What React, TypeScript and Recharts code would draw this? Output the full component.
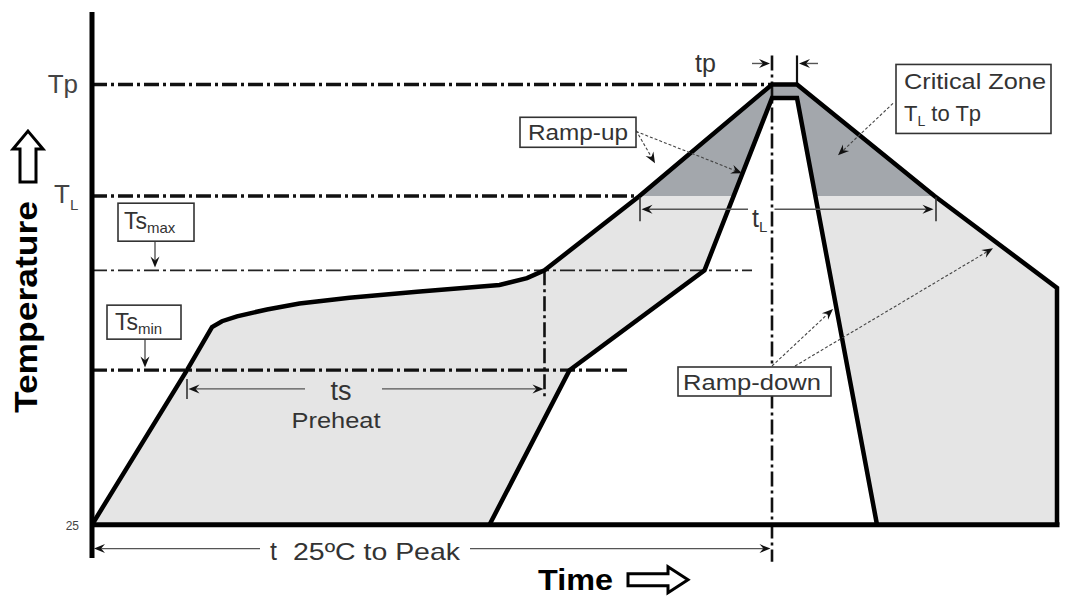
import React from 'react';
import {
  Area,
  ComposedChart,
  Line,
  ReferenceDot,
  ReferenceLine,
  XAxis,
  YAxis,
} from 'recharts';

// reflow profile: time (s) / temperature (°C)
const TEMP_ROOM = 25;
const TEMP_SOAK_MIN = 104;
const TEMP_SOAK_MAX = 155;
const TEMP_LIQUIDUS = 193;
const TEMP_PEAK = 250;

const TIME_SOAK_END = 181;
const TIME_TO_PEAK = 272;
const TIME_PEAK_END = 282;

// outer (max) profile
const maxTime = [0, 38, 48, 52, 58, 70, 83, 103, 130, 163, 174, 181, 219, 272, 282, 337, 386, 386];
const maxTemp = [25, 104, 126, 129, 131.5, 135, 138, 141, 144, 147.5, 151, 155, 193, 250, 250, 193, 146, 25];

// inner (min) profile
const minTime = [159, 191, 245, 272, 282, 314];
const minTemp = [25, 104, 155, 243, 243, 25];

const yTicks = [TEMP_ROOM, TEMP_LIQUIDUS, TEMP_PEAK];

const maxProfile = maxTime.map((t, i) => ({ t, temp: maxTemp[i] }));
const minProfile = minTime.map((t, i) => ({ t, temp: minTemp[i] }));
const criticalZone = maxProfile.filter((p) => p.temp >= TEMP_LIQUIDUS);

const FONT = '"Liberation Sans", Arial, sans-serif';
const INK = '#333';
const DASH_DOT = '15 4 3 4';
const AXIS_X = 84;

// line with a notched arrow head at (x2, y2)
const arrow =
  (dashed = false) =>
  (p: any) => {
    const { x1, y1, x2, y2 } = p;
    const a = Math.atan2(y2 - y1, x2 - x1);
    const c = Math.cos(a);
    const s = Math.sin(a);
    const len = 11;
    const w = 4.5;
    const bx = x2 - len * c;
    const by = y2 - len * s;
    const nx = x2 - len * 0.65 * c;
    const ny = y2 - len * 0.65 * s;
    const pts = `${x2},${y2} ${bx - w * s},${by + w * c} ${nx},${ny} ${bx + w * s},${by - w * c}`;
    return (
      <g>
        <line
          x1={x1}
          y1={y1}
          x2={nx}
          y2={ny}
          stroke={dashed ? '#444' : '#555'}
          strokeWidth={dashed ? 1.1 : 1.4}
          strokeDasharray={dashed ? '3 2' : undefined}
        />
        <polygon points={pts} fill="#111" />
      </g>
    );
  };

const box =
  (w: number, h: number, body: (x: number, y: number) => React.ReactNode) =>
  (p: any) => (
    <g fontFamily={FONT} fill={INK}>
      <rect x={p.cx} y={p.cy} width={w} height={h} fill="#fff" stroke="#333" strokeWidth={1.6} />
      {body(p.cx, p.cy)}
    </g>
  );

const text =
  (content: React.ReactNode, size: number, opts: any = {}) =>
  (p: any) => (
    <text x={p.cx} y={p.cy} fontFamily={FONT} fontSize={size} fill={INK} {...opts}>
      {content}
    </text>
  );

function TempTick(props: any) {
  const { y, payload } = props;
  const v = payload.value;
  if (v === TEMP_ROOM) {
    return (
      <text x={AXIS_X - 13} y={y + 5} textAnchor="end" fontFamily={FONT} fontSize={12} fill="#444">
        25
      </text>
    );
  }
  if (v === TEMP_LIQUIDUS) {
    return (
      <text x={AXIS_X - 38} y={y + 7} fontFamily={FONT} fontSize={26} fill="#444">
        T
        <tspan fontSize={15} dy={7}>
          L
        </tspan>
      </text>
    );
  }
  return (
    <text x={AXIS_X - 14} y={y + 9} textAnchor="end" fontFamily={FONT} fontSize={26} fill="#444">
      Tp
    </text>
  );
}

const temperatureLabel = (p: any) => {
  const { cx, cy } = p;
  const ax = cx - 9;
  const top = cy - 176;
  const head = top + 18;
  const bottom = cy - 125;
  const pts = [
    [ax, top],
    [ax + 15, head],
    [ax + 8, head],
    [ax + 8, bottom],
    [ax - 8, bottom],
    [ax - 8, head],
    [ax - 15, head],
  ]
    .map((q) => q.join(','))
    .join(' ');
  return (
    <g>
      <text
        transform={`rotate(-90 ${cx} ${cy})`}
        x={cx}
        y={cy}
        textAnchor="middle"
        fontFamily={FONT}
        fontWeight="bold"
        fontSize={31}
        textLength={212}
        lengthAdjust="spacingAndGlyphs"
        fill="#000"
      >
        Temperature
      </text>
      <polygon points={pts} fill="#fff" stroke="#000" strokeWidth={3} />
    </g>
  );
};

const timeLabel = (p: any) => {
  const { cx, cy } = p;
  const x0 = cx + 90;
  const x1 = cx + 130;
  const x2 = cx + 150;
  const my = cy - 10;
  const pts = [
    [x0, my - 6],
    [x1, my - 6],
    [x1, my - 13],
    [x2, my],
    [x1, my + 13],
    [x1, my + 6],
    [x0, my + 6],
  ]
    .map((q) => q.join(','))
    .join(' ');
  return (
    <g>
      <text x={cx} y={cy} fontFamily={FONT} fontWeight="bold" fontSize={30} textLength={75} lengthAdjust="spacingAndGlyphs" fill="#000">
        Time
      </text>
      <polygon points={pts} fill="#fff" stroke="#000" strokeWidth={3} />
    </g>
  );
};

export default function App(): React.JSX.Element {
  return (
    <div style={{ width: 1066, height: 590, fontFamily: FONT }}>
      <ComposedChart width={1066} height={590} margin={{ top: 4, right: 2, bottom: 40, left: 0 }}>
        <XAxis type="number" dataKey="t" domain={[0, 392]} allowDataOverflow hide />
        <YAxis
          type="number"
          domain={[8, 287]}
          allowDataOverflow
          ticks={yTicks}
          interval={0}
          width={84}
          tickLine={false}
          axisLine={{ stroke: '#000', strokeWidth: 5 }}
          tick={<TempTick />}
        />

        {/* fills */}
        <Area
          data={maxProfile}
          dataKey="temp"
          type="linear"
          baseValue={TEMP_ROOM}
          fill="#e5e5e5"
          fillOpacity={1}
          stroke="none"
          isAnimationActive={false}
        />
        <Area
          data={criticalZone}
          dataKey="temp"
          type="linear"
          baseValue={TEMP_LIQUIDUS}
          fill="#a3a7ac"
          fillOpacity={1}
          stroke="none"
          isAnimationActive={false}
        />
        <Area
          data={minProfile}
          dataKey="temp"
          type="linear"
          baseValue={TEMP_ROOM}
          fill="#ffffff"
          fillOpacity={1}
          stroke="none"
          isAnimationActive={false}
        />

        {/* level lines */}
        <ReferenceLine segment={[{ x: 0, y: TEMP_PEAK }, { x: TIME_TO_PEAK, y: TEMP_PEAK }]} stroke="#111" strokeWidth={3.5} strokeDasharray={DASH_DOT} ifOverflow="visible" />
        <ReferenceLine segment={[{ x: 0, y: TEMP_LIQUIDUS }, { x: 219, y: TEMP_LIQUIDUS }]} stroke="#111" strokeWidth={3.5} strokeDasharray={DASH_DOT} ifOverflow="visible" />
        <ReferenceLine segment={[{ x: 0, y: TEMP_SOAK_MAX }, { x: 264, y: TEMP_SOAK_MAX }]} stroke="#222" strokeWidth={1.8} strokeDasharray={DASH_DOT} ifOverflow="visible" />
        <ReferenceLine segment={[{ x: 0, y: TEMP_SOAK_MIN }, { x: 214.4, y: TEMP_SOAK_MIN }]} stroke="#111" strokeWidth={3.2} strokeDasharray={DASH_DOT} ifOverflow="visible" />
        <ReferenceLine segment={[{ x: TIME_SOAK_END, y: TEMP_SOAK_MAX }, { x: TIME_SOAK_END, y: 88.8 }]} stroke="#111" strokeWidth={2.6} strokeDasharray={DASH_DOT} ifOverflow="visible" />
        <ReferenceLine segment={[{ x: TIME_TO_PEAK, y: 264.8 }, { x: TIME_TO_PEAK, y: 6.1 }]} stroke="#111" strokeWidth={2.6} strokeDasharray={DASH_DOT} ifOverflow="visible" />
        <ReferenceLine segment={[{ x: TIME_PEAK_END, y: 264.8 }, { x: TIME_PEAK_END, y: TEMP_PEAK }]} stroke="#111" strokeWidth={2.2} ifOverflow="visible" />

        {/* profile outlines */}
        <Line data={maxProfile} dataKey="temp" type="linear" stroke="#000" strokeWidth={4.5} dot={false} activeDot={false} isAnimationActive={false} />
        <Line data={minProfile} dataKey="temp" type="linear" stroke="#000" strokeWidth={4.5} dot={false} activeDot={false} isAnimationActive={false} />
        <ReferenceLine segment={[{ x: 0, y: TEMP_ROOM }, { x: 387, y: TEMP_ROOM }]} stroke="#000" strokeWidth={5} ifOverflow="visible" />

        {/* dimension arrows */}
        <ReferenceLine segment={[{ x: 264, y: 260.7 }, { x: 271.2, y: 260.7 }]} ifOverflow="visible" shape={arrow()} />
        <ReferenceLine segment={[{ x: 290.4, y: 260.7 }, { x: 282.8, y: 260.7 }]} ifOverflow="visible" shape={arrow()} />
        <ReferenceLine segment={[{ x: 262.4, y: 186.2 }, { x: 219.8, y: 186.2 }]} ifOverflow="visible" shape={arrow()} />
        <ReferenceLine segment={[{ x: 273, y: 186.2 }, { x: 336.6, y: 186.2 }]} ifOverflow="visible" shape={arrow()} />
        <ReferenceLine segment={[{ x: 219.2, y: 192.3 }, { x: 219.2, y: 180.1 }]} stroke="#333" strokeWidth={1.6} ifOverflow="visible" />
        <ReferenceLine segment={[{ x: 337.6, y: 192.3 }, { x: 337.6, y: 180.1 }]} stroke="#333" strokeWidth={1.6} ifOverflow="visible" />
        <ReferenceLine segment={[{ x: 85.2, y: 94.4 }, { x: 38.6, y: 94.4 }]} ifOverflow="visible" shape={arrow()} />
        <ReferenceLine segment={[{ x: 116, y: 94.4 }, { x: 180.6, y: 94.4 }]} ifOverflow="visible" shape={arrow()} />
        <ReferenceLine segment={[{ x: 38, y: 99.5 }, { x: 38, y: 89.3 }]} stroke="#333" strokeWidth={1.6} ifOverflow="visible" />
        <ReferenceLine segment={[{ x: 67.2, y: 12.8 }, { x: 0.8, y: 12.8 }]} ifOverflow="visible" shape={arrow()} />
        <ReferenceLine segment={[{ x: 151.2, y: 12.8 }, { x: 271.4, y: 12.8 }]} ifOverflow="visible" shape={arrow()} />
        <ReferenceLine segment={[{ x: 25.2, y: 170.4 }, { x: 25.2, y: 156.4 }]} ifOverflow="visible" shape={arrow()} />
        <ReferenceLine segment={[{ x: 21.2, y: 119.9 }, { x: 21.2, y: 105.4 }]} ifOverflow="visible" shape={arrow()} />

        {/* leaders */}
        <ReferenceLine segment={[{ x: 320.4, y: 240.3 }, { x: 298.4, y: 213.8 }]} ifOverflow="visible" shape={arrow(true)} />
        <ReferenceLine segment={[{ x: 217.6, y: 226.5 }, { x: 225.2, y: 209.7 }]} ifOverflow="visible" shape={arrow(true)} />
        <ReferenceLine segment={[{ x: 217.6, y: 226 }, { x: 260, y: 204.6 }]} ifOverflow="visible" shape={arrow(true)} />
        <ReferenceLine segment={[{ x: 272, y: 106.1 }, { x: 296.4, y: 135.2 }]} ifOverflow="visible" shape={arrow(true)} />
        <ReferenceLine segment={[{ x: 281.2, y: 106.1 }, { x: 360.4, y: 166.3 }]} ifOverflow="visible" shape={arrow(true)} />

        {/* boxes */}
        <ReferenceDot
          x={321.6}
          y={260.2}
          ifOverflow="visible"
          shape={box(155, 69, (x, y) => (
            <>
              <text x={x + 8} y={y + 25} fontSize={22} textLength={142} lengthAdjust="spacingAndGlyphs">
                Critical Zone
              </text>
              <text x={x + 8} y={y + 57} fontSize={22}>
                T
                <tspan fontSize={14} dy={5}>
                  L
                </tspan>
                <tspan fontSize={22} dy={-5}>
                  {' to Tp'}
                </tspan>
              </text>
            </>
          ))}
        />
        <ReferenceDot
          x={171.2}
          y={233.2}
          ifOverflow="visible"
          shape={box(116, 30, (x, y) => (
            <text x={x + 8} y={y + 23} fontSize={22} textLength={100} lengthAdjust="spacingAndGlyphs">
              Ramp-up
            </text>
          ))}
        />
        <ReferenceDot
          x={10.4}
          y={189.3}
          ifOverflow="visible"
          shape={box(76, 38, (x, y) => (
            <text x={x + 6} y={y + 26} fontSize={23}>
              Ts
              <tspan fontSize={15} dy={4}>
                max
              </tspan>
            </text>
          ))}
        />
        <ReferenceDot
          x={6}
          y={137.2}
          ifOverflow="visible"
          shape={box(74, 34, (x, y) => (
            <text x={x + 8} y={y + 25} fontSize={23}>
              Ts
              <tspan fontSize={15} dy={4}>
                min
              </tspan>
            </text>
          ))}
        />
        <ReferenceDot
          x={234.4}
          y={105.6}
          ifOverflow="visible"
          shape={box(153, 29, (x, y) => (
            <text x={x + 5} y={y + 23} fontSize={22} textLength={138} lengthAdjust="spacingAndGlyphs">
              Ramp-down
            </text>
          ))}
        />

        {/* free text */}
        <ReferenceDot x={241.2} y={256.1} ifOverflow="visible" shape={text('tp', 25)} />
        <ReferenceDot
          x={264}
          y={177}
          ifOverflow="visible"
          shape={text(
            <>
              t
              <tspan fontSize={15} dy={5}>
                L
              </tspan>
            </>,
            25,
          )}
        />
        <ReferenceDot x={99.6} y={88.8} ifOverflow="visible" shape={text('ts', 27, { textAnchor: 'middle' })} />
        <ReferenceDot
          x={97.6}
          y={74.5}
          ifOverflow="visible"
          shape={text('Preheat', 22, { textAnchor: 'middle', textLength: 89, lengthAdjust: 'spacingAndGlyphs' })}
        />
        <ReferenceDot x={71.2} y={7.1} ifOverflow="visible" shape={text('t', 25)} />
        <ReferenceDot
          x={80.4}
          y={7.1}
          ifOverflow="visible"
          shape={text('25\u00baC to Peak', 24, { textLength: 167, lengthAdjust: 'spacingAndGlyphs' })}
        />
        <ReferenceDot x={178.4} y={-8.2} ifOverflow="visible" shape={timeLabel} />
        <ReferenceDot x={-22} y={136.2} ifOverflow="visible" shape={temperatureLabel} />
      </ComposedChart>
    </div>
  );
}
